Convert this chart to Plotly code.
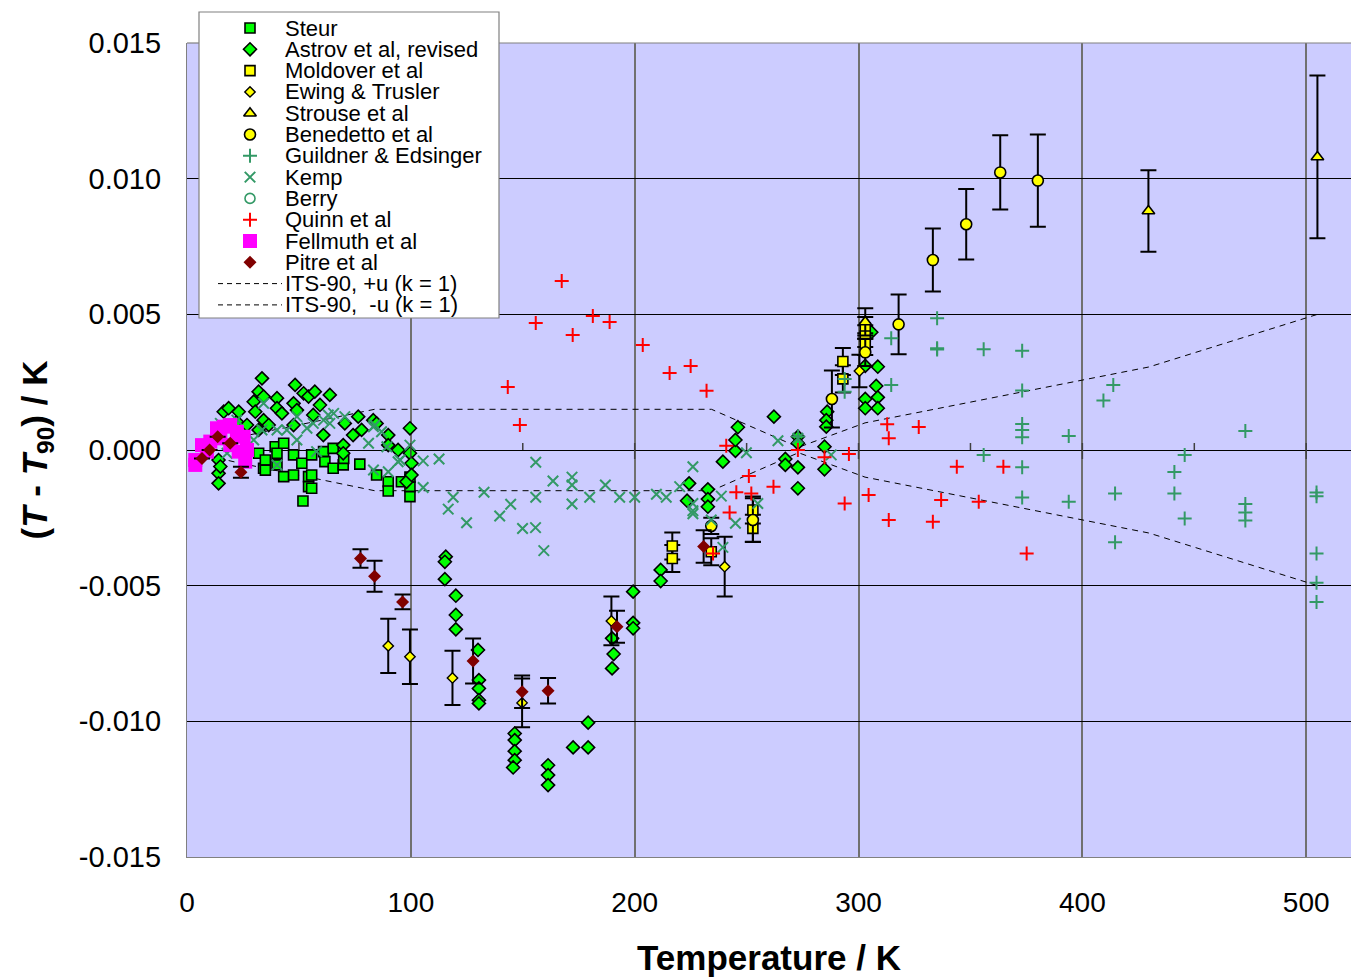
import plotly.graph_objects as go

# ---------------- data (T in K, T - T90 in K) ----------------
steur_T = [32.0, 34.2, 35.0, 35.0, 39.4, 40.2, 40.2, 43.2, 43.2, 47.6, 47.6, 51.3, 51.8, 54.3, 54.3,
           55.7, 55.7, 55.7, 61.0, 61.6, 65.3, 65.3, 69.8, 70.0, 77.2, 84.7, 89.9, 89.9, 95.8,
           99.6, 99.6, 99.6]
steur_dT = [-0.00012, -0.00067, -0.00037, -0.00074, 0.00012, -0.00012, -0.00055, 0.00025, -0.00098,
            -0.00018, -0.00092, -0.00049, -0.00188, -0.00098, -0.00135, -0.00018, -0.00092, -0.00141,
            -0.00006, -0.00043, 0.00006, -0.00067, -0.00055, -0.00031, -0.00052, -0.00092, -0.00117,
            -0.00151, -0.00117, -0.00135, -0.00172, -0.00100]

astrov_T = [14.1, 14.1, 14.1, 14.9, 16.4, 18.6, 22.3, 23.1, 26.8, 29.8, 30.5, 32.0, 32.0, 33.5, 34.2,
            34.2, 36.5, 40.2, 40.2, 42.4, 47.6, 47.6, 48.3, 49.1, 52.1, 54.3, 56.4, 57.1, 59.4, 60.9,
            63.8, 69.8, 69.8, 70.5, 74.2, 76.5, 78.0, 83.2, 84.7, 89.9, 89.9, 94.3, 98.1, 99.6, 99.6,
            100.3, 100.3,
            115.6, 115.2, 115.2, 120.1, 120.1, 120.1, 130.0, 130.4, 130.4, 130.4, 130.4, 146.4, 146.4,
            146.4, 146.4, 145.7, 161.3, 161.3, 161.3, 172.5, 179.2, 179.2, 189.9, 190.6, 189.9, 199.3,
            199.3, 199.3, 211.6, 211.6,
            224.3, 223.4, 232.7, 232.7, 232.7, 239.4, 245.0, 245.0, 246.1, 262.2, 267.3, 267.3, 272.9,
            272.9, 272.9, 272.9, 284.8, 284.8, 286.0, 285.6, 285.6, 303.0, 308.6, 307.9, 308.6, 308.6,
            303.0, 303.0, 305.7]
astrov_dT = [-0.00037, -0.00086, -0.00123, -0.00061, 0.00141, 0.00154, 0.00104, 0.00141, 0.00092,
             0.00178, 0.00141, 0.00215, 0.00074, 0.00264, 0.00197, 0.00110, 0.00092, 0.00191, 0.00154,
             0.00135, 0.00172, 0.00092, 0.00240, 0.00147, 0.00209, 0.00197, 0.00129, 0.00215, 0.00166,
             0.00055, 0.00203, 0.00018, -0.00012, 0.00098, 0.00055, 0.00123, 0.00074, 0.00110, 0.00098,
             0.00055, 0.00018, 0.00000, -0.00117, 0.00080, -0.00012, -0.00049, -0.00092,
             -0.00393, -0.00412, -0.00476, -0.00537, -0.00608, -0.00661, -0.00737, -0.00848, -0.00879,
             -0.00922, -0.00934, -0.01045, -0.01069, -0.01110, -0.01143, -0.01170, -0.01162, -0.01198,
             -0.01235, -0.01096, -0.01005, -0.01096, -0.00694, -0.00752, -0.00805, -0.00522, -0.00637,
             -0.00657, -0.00442, -0.00483,
             -0.00123, -0.00187, -0.00145, -0.00181, -0.00209, -0.00043, -0.00003, 0.00037, 0.00084,
             0.00123, -0.00033, -0.00055, -0.00064, -0.00141, 0.00049, 0.00025, 0.00012, -0.00071,
             0.00141, 0.00110, 0.00086, 0.00310, 0.00307, 0.00236, 0.00194, 0.00154, 0.00188, 0.00154,
             0.00434]

moldover_T = [216.8, 216.8, 234.2, 252.8, 252.8, 293.0, 293.0, 303.0, 303.0, 303.0]
moldover_dT = [-0.00354, -0.00400, -0.00375, -0.00221, -0.00289, 0.00326, 0.00262, 0.00450, 0.00420, 0.00390]
moldover_err = [0.0005, 0.0005, 0.0005, 0.0005, 0.0005, 0.0005, 0.0005, 0.0004, 0.0004, 0.0004]

ewing_T = [89.9, 99.6, 118.6, 149.7, 189.6, 240.2, 300.4]
ewing_dT = [-0.00722, -0.00762, -0.00840, -0.00932, -0.00630, -0.00430, 0.00291]
ewing_err = [0.0010, 0.0010, 0.0010, 0.0009, 0.0009, 0.0011, 0.0006]

strouse_T = [303.0, 429.5, 505.0]
strouse_dT = [0.00472, 0.00881, 0.01080]
strouse_err = [0.0005, 0.0015, 0.0030]

benedetto_T = [234.2, 252.8, 288.1, 303.0, 317.9, 333.2, 348.1, 363.3, 380.1]
benedetto_dT = [-0.00280, -0.00258, 0.00188, 0.00360, 0.00463, 0.00700, 0.00832, 0.01023, 0.00993]
benedetto_err = [0.0003, 0.0008, 0.00105, 0.0005, 0.0011, 0.00116, 0.0013, 0.00137, 0.0017]

guildner_T = [273.0, 293.8, 293.8, 314.6, 314.6, 335.1, 335.1, 335.1, 355.9, 355.9, 373.1, 373.1,
              373.1, 373.1, 373.1, 373.1, 373.1, 393.9, 393.9, 409.4, 413.8, 414.6, 414.6, 441.1,
              441.1, 445.7, 445.7, 472.8, 472.8, 472.8, 472.8, 504.6, 504.6, 504.6, 504.6, 504.6]
guildner_dT = [0.00050, 0.00262, 0.00215, 0.00412, 0.00240, 0.00486, 0.00375, 0.00370, 0.00371,
               -0.00018, 0.00366, 0.00219, 0.00096, 0.00074, 0.00047, -0.00064, -0.00175, 0.00052,
               -0.00191, 0.00182, 0.00240, -0.00160, -0.00340, -0.00081, -0.00160, -0.00018, -0.00252,
               0.00070, -0.00199, -0.00230, -0.00260, -0.00157, -0.00170, -0.00381, -0.00489, -0.00560]

kemp_T = [14.9, 17.9, 22.3, 29.8, 33.5, 34.2, 40.2, 40.2, 44.6, 49.1, 49.1, 53.6, 56.4, 57.9, 61.0,
          63.1, 63.8, 65.5, 70.5, 81.1, 83.3, 83.3, 83.9, 86.9, 89.3, 89.9, 94.3, 95.2, 99.6, 105.5,
          105.5, 112.6,
          116.7, 118.9, 124.9, 132.7, 139.7, 144.6, 149.9, 155.7, 159.4, 155.8, 155.8, 163.5, 172.0,
          172.0, 172.0, 179.9, 186.9, 193.3, 200.0, 209.7, 214.1, 220.1, 226.0, 226.0, 226.0, 226.0,
          234.2, 238.7, 245.0, 249.9, 255.0, 239.4, 264.0, 272.9, 287.8]
kemp_dT = [0.00098, -0.00012, 0.00110, 0.00037, 0.00074, 0.00172, 0.00074, -0.00055, 0.00074, 0.00037,
           0.00123, 0.00080, 0.00098, -0.00006, 0.00110, 0.00129, 0.00098, 0.00135, 0.00123, 0.00025,
           0.00086, -0.00074, 0.00092, 0.00067, 0.00012, -0.00080, -0.00043, -0.00037, 0.00018, -0.00040,
           -0.00138, -0.00033,
           -0.00218, -0.00174, -0.00268, -0.00156, -0.00243, -0.00200, -0.00289, -0.00286, -0.00371,
           -0.00045, -0.00174, -0.00114, -0.00100, -0.00129, -0.00199, -0.00174, -0.00129, -0.00174,
           -0.00174, -0.00163, -0.00174, -0.00135, -0.00062, -0.00224, -0.00197, -0.00235, -0.00258,
           -0.00170, -0.00270, -0.00010, -0.00197, -0.00359, 0.00034, 0.00043, -0.00018]

berry_T = []
berry_dT = []

quinn_T = [143.3, 148.7, 155.8, 167.4, 172.3, 181.3, 188.8, 203.6, 215.6, 225.0, 232.1, 240.9, 242.4,
           245.4, 251.0, 252.1, 262.0, 235.0, 272.9, 284.8, 293.8, 295.7, 304.5, 312.8, 313.5, 313.5,
           326.9, 333.2, 336.9, 343.9, 353.7, 364.7, 375.1]
quinn_dT = [0.00232, 0.00092, 0.00468, 0.00623, 0.00424, 0.00494, 0.00472, 0.00387, 0.00284, 0.00310,
            0.00218, 0.00016, -0.00230, -0.00156, -0.00096, -0.00160, -0.00135, -0.00381, 0.00000,
            -0.00027, -0.00197, -0.00015, -0.00166, 0.00095, 0.00043, -0.00258, 0.00085, -0.00264,
            -0.00184, -0.00062, -0.00191, -0.00062, -0.00381]

fellmuth_T = [3.7, 3.7, 6.7, 8.9, 10.4, 13.4, 14.9, 16.4, 19.3, 19.3, 22.3, 23.1, 25.3, 26.0, 26.8]
fellmuth_dT = [-0.00037, -0.00055, 0.00018, -0.00006, 0.00031, 0.00080, 0.00043, 0.00086, 0.00092,
               0.00018, 0.00067, -0.00006, 0.00049, -0.00043, 0.00000]

pitre_T = [6.7, 10.1, 13.7, 19.3, 24.1, 77.5, 83.8, 96.3, 127.8, 149.7, 161.3, 192.1, 230.8]
pitre_dT = [-0.00031, 0.00000, 0.00049, 0.00025, -0.00082, -0.00400, -0.00465, -0.00560, -0.00778,
            -0.00891, -0.00887, -0.00651, -0.00356]
pitre_err = [None, None, None, None, 0.0002, 0.00034, 0.00057, 0.00027, 0.00083, 0.0006, 0.00047,
             0.00059, 0.0006]

its_T = [13.8033, 24.5561, 54.3584, 83.8058, 234.3156, 273.16, 302.9146, 429.7485, 505.078]
its_u = [0.0003, 0.0005, 0.0010, 0.0015, 0.0015, 0.0001, 0.0010, 0.00306, 0.0050]

x_ticks = [0, 100, 200, 300, 400, 500]
x_minor = [50, 150, 250, 350, 450]
y_ticks = [-0.015, -0.010, -0.005, 0.0, 0.005, 0.010, 0.015]

# ---------------- layout constants (pixels) ----------------
W, H = 1351, 979
PL, PR, PT, PB = 187, 1351, 43, 857          # plot-area edges
XR = [0, 520]
YR = [-0.015, 0.015]
FONT = "Liberation Sans, Arial, sans-serif"
GREEN, YELLOW, SEA = "#00FF00", "#FFFF00", "#339966"
K_PER_PX = (YR[1] - YR[0]) / (PB - PT)


def pp(px, py):
    """pixel -> paper coordinates (margins are zero, so paper == page)"""
    return px / W, 1 - py / H


styles = {
    "Steur": dict(symbol="square", color=GREEN, size=10, line=dict(color="black", width=1.6)),
    "Astrov et al, revised": dict(symbol="diamond", color=GREEN, size=10, line=dict(color="black", width=1.6)),
    "Moldover et al": dict(symbol="square", color=YELLOW, size=10, line=dict(color="black", width=1.6)),
    "Ewing & Trusler": dict(symbol="diamond", color=YELLOW, size=8, line=dict(color="black", width=1.4)),
    "Strouse et al": dict(symbol="triangle-up", color=YELLOW, size=11, line=dict(color="black", width=1.6)),
    "Benedetto et al": dict(symbol="circle", color=YELLOW, size=11, line=dict(color="black", width=1.6)),
    "Guildner & Edsinger": dict(symbol="cross-thin", color=SEA, size=10, line=dict(color=SEA, width=2)),
    "Kemp": dict(symbol="x-thin", color=SEA, size=10.5, line=dict(color=SEA, width=2)),
    "Berry": dict(symbol="circle-open", color=SEA, size=10, line=dict(color=SEA, width=1.6)),
    "Quinn et al": dict(symbol="cross-thin", color="#FF0000", size=10, line=dict(color="#FF0000", width=2)),
    "Fellmuth et al": dict(symbol="square", color="#FF00FF", size=14, line=dict(width=0)),
    "Pitre et al": dict(symbol="diamond", color="#800000", size=10, line=dict(width=0)),
}

series = [
    ("Steur", steur_T, steur_dT, None),
    ("Astrov et al, revised", astrov_T, astrov_dT, None),
    ("Moldover et al", moldover_T, moldover_dT, moldover_err),
    ("Ewing & Trusler", ewing_T, ewing_dT, ewing_err),
    ("Strouse et al", strouse_T, strouse_dT, strouse_err),
    ("Benedetto et al", benedetto_T, benedetto_dT, benedetto_err),
    ("Guildner & Edsinger", guildner_T, guildner_dT, None),
    ("Kemp", kemp_T, kemp_dT, None),
    ("Berry", berry_T, berry_dT, None),
    ("Quinn et al", quinn_T, quinn_dT, None),
    ("Fellmuth et al", fellmuth_T, fellmuth_dT, None),
    ("Pitre et al", pitre_T, pitre_dT, pitre_err),
]

fig = go.Figure()

dash_style = dict(color="black", width=1, dash="6px,5px")
fig.add_trace(go.Scatter(x=its_T, y=its_u, mode="lines", line=dash_style,
                         name="ITS-90, +u (k = 1)", showlegend=False, hoverinfo="skip"))
fig.add_trace(go.Scatter(x=its_T, y=[-u for u in its_u], mode="lines", line=dash_style,
                         name="ITS-90,  -u (k = 1)", showlegend=False, hoverinfo="skip"))

for name, xs, ys, err in series:
    if len(xs) == 0:
        continue
    kw = {}
    if err is not None:
        kw["error_y"] = dict(type="data", array=err, symmetric=True, visible=True,
                             color="black", thickness=2, width=8)
    fig.add_trace(go.Scatter(x=xs, y=ys, mode="markers", name=name, marker=styles[name],
                             showlegend=False, cliponaxis=False, **kw))

# ---------------- hand-built legend on a full-page pixel subplot ----------------
LEG_BOX = (199, 12, 499, 318)
ROW0, ROWSTEP, KEYX, TEXTX = 28, 21.3, 250, 284
bx0, by0, bx1, by1 = LEG_BOX
fig.add_trace(go.Scatter(x=[bx0, bx1, bx1, bx0, bx0], y=[by0, by0, by1, by1, by0],
                         xaxis="x3", yaxis="y3", mode="lines", fill="toself",
                         fillcolor="white", line=dict(width=0), showlegend=False, hoverinfo="skip"))

legend_names = [s[0] for s in series] + ["ITS-90, +u (k = 1)", "ITS-90,  -u (k = 1)"]
annotations = []
for i, nm in enumerate(legend_names):
    ry = ROW0 + ROWSTEP * i
    if nm in styles:
        fig.add_trace(go.Scatter(x=[KEYX], y=[ry], xaxis="x3", yaxis="y3", mode="markers",
                                 marker=styles[nm], showlegend=False, hoverinfo="skip"))
    else:
        fig.add_trace(go.Scatter(x=[218, 282], y=[ry, ry], xaxis="x3", yaxis="y3", mode="lines",
                                 line=dict(color="black", width=1, dash="5px,4px"),
                                 showlegend=False, hoverinfo="skip"))
    ax, ay = pp(TEXTX, ry)
    annotations.append(dict(x=ax, y=ay, xref="paper", yref="paper", text=nm.replace(" ", "&nbsp;"),
                            showarrow=False, xanchor="left", yanchor="middle", borderpad=0,
                            font=dict(family=FONT, size=22, color="black")))

shapes = []
# lavender plot background
shapes.append(dict(type="rect", xref="x domain", yref="y domain", x0=0, x1=1, y0=0, y1=1,
                   fillcolor="#CCCCFF", line=dict(width=0), layer="below"))
p0x, p0y = pp(bx0, by0)
p1x, p1y = pp(bx1, by1)
shapes.append(dict(type="rect", xref="paper", yref="paper", x0=p0x, y0=p0y, x1=p1x, y1=p1y,
                   line=dict(color="#808080", width=1.2), fillcolor="rgba(0,0,0,0)", layer="above"))
# top border of the plot area (interrupted by the legend box)
tx0, ty = pp(PL, PT)
shapes.append(dict(type="line", xref="paper", yref="paper", x0=tx0, x1=p0x, y0=ty, y1=ty,
                   line=dict(color="#808080", width=1.2), layer="above"))
shapes.append(dict(type="line", xref="paper", yref="paper", x0=p1x, x1=1, y0=ty, y1=ty,
                   line=dict(color="#808080", width=1.2), layer="above"))
# Excel-style tick marks on the y = 0 axis
up, dn = 7 * K_PER_PX, 9 * K_PER_PX
for t in x_ticks[1:]:
    shapes.append(dict(type="line", xref="x", yref="y", x0=t, x1=t, y0=-dn, y1=up,
                       line=dict(color="#404040", width=1.5)))
for t in x_minor:
    shapes.append(dict(type="line", xref="x", yref="y", x0=t, x1=t, y0=0, y1=up,
                       line=dict(color="#404040", width=1.5)))

fig.update_layout(
    width=W, height=H,
    margin=dict(l=0, r=0, t=0, b=0, pad=0, autoexpand=False),
    paper_bgcolor="white", plot_bgcolor="rgba(0,0,0,0)",
    font=dict(family=FONT, color="black"),
    showlegend=False,
    shapes=shapes, annotations=annotations,
    xaxis=dict(domain=[PL / W, PR / W], anchor="y", range=XR, tickvals=x_ticks,
               ticktext=[str(v) for v in x_ticks],
               showgrid=True, gridcolor="#707070", gridwidth=1.6, zeroline=False,
               showline=True, linecolor="#808080", linewidth=1.2, mirror=False,
               ticks="", ticklabelstandoff=20, tickfont=dict(size=28),
               title=dict(text="<b>Temperature / K</b>", font=dict(size=35), standoff=28),
               automargin=False, fixedrange=True),
    yaxis=dict(domain=[1 - PB / H, 1 - PT / H], anchor="x", range=YR, tickvals=y_ticks,
               ticktext=[f"{v:.3f}" for v in y_ticks],
               showgrid=True, gridcolor="black", gridwidth=1, zeroline=False,
               showline=True, linecolor="#808080", linewidth=1.2, mirror=False,
               ticks="", ticklabelstandoff=19, tickfont=dict(size=29),
               title=dict(text="<b>(<i>T</i> - <i>T</i><sub>90</sub>) / K</b>", font=dict(size=35),
                          standoff=20),
               automargin=False, fixedrange=True),
    xaxis3=dict(domain=[0, 1], anchor="y3", range=[0, W], visible=False, fixedrange=True),
    yaxis3=dict(domain=[0, 1], anchor="x3", range=[H, 0], visible=False, fixedrange=True),
)

fig.write_html("out.html", config={"displayModeBar": False, "staticPlot": False},
               post_script="document.body.style.margin='0px';")
